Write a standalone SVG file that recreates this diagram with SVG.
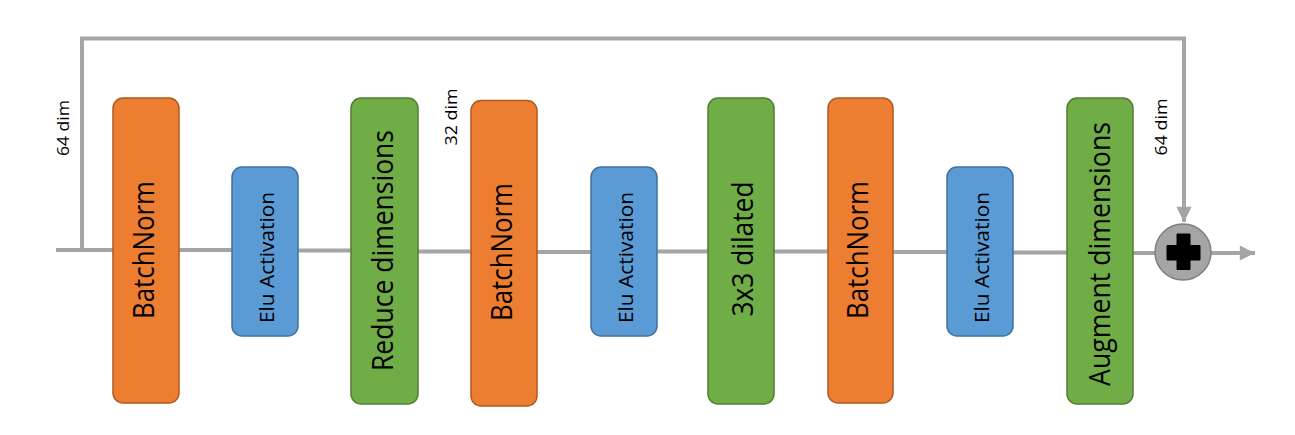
<svg xmlns="http://www.w3.org/2000/svg" width="1295" height="435" viewBox="0 0 1295 435">
<defs>
<style>
.orange{fill:#ed7d31;stroke:#ae5a21;stroke-width:1.5}
.blue{fill:#5b9bd5;stroke:#41719c;stroke-width:1.5}
.green{fill:#70ad47;stroke:#507e32;stroke-width:1.5}
.big{font-family:"Open Sans","Liberation Sans",sans-serif;font-size:28.5px;fill:#000;text-anchor:middle}
.small{font-family:"Open Sans","Liberation Sans",sans-serif;font-size:20px;fill:#000;text-anchor:middle}
.dim{font-family:"Open Sans","Liberation Sans",sans-serif;font-size:17px;fill:#000;text-anchor:middle}
.conn{stroke:#a5a5a5;stroke-width:4;fill:none}
</style>
<marker id="ah" viewBox="0 0 10 10" refX="10" refY="5" markerWidth="4" markerHeight="3.8" markerUnits="strokeWidth" orient="auto">
<path d="M0,0 L10,5 L0,10 Z" fill="#a5a5a5"/>
</marker>
</defs>
<rect width="1295" height="435" fill="#fff"/>
<g id="connectors">
<line class="conn" x1="56" y1="250" x2="114" y2="250"/>
<line class="conn" x1="178" y1="250" x2="233" y2="250"/>
<line class="conn" x1="297" y1="250.5" x2="352" y2="250.5"/>
<line class="conn" x1="417" y1="251.5" x2="472" y2="251.5"/>
<line class="conn" x1="536" y1="252" x2="592" y2="252"/>
<line class="conn" x1="656" y1="251.5" x2="709" y2="251.5"/>
<line class="conn" x1="773" y1="251.5" x2="829" y2="251.5"/>
<line class="conn" x1="892" y1="252" x2="948" y2="252"/>
<line class="conn" x1="1012" y1="252.5" x2="1068" y2="252.5"/>
<line class="conn" x1="1132" y1="253" x2="1156" y2="253"/>
<polyline class="conn" points="82,250 82,38.5 1184,38.5 1184,222" marker-end="url(#ah)"/>
<line class="conn" x1="1211" y1="253" x2="1255" y2="253" marker-end="url(#ah)"/>
</g>
<g id="label-64-left"><text class="dim" transform="translate(69,128) rotate(-90)" textLength="56" lengthAdjust="spacingAndGlyphs">64 dim</text></g>
<g id="label-32"><text class="dim" transform="translate(456.5,117) rotate(-90)" textLength="57" lengthAdjust="spacingAndGlyphs">32 dim</text></g>
<g id="label-64-right"><text class="dim" transform="translate(1167,127) rotate(-90)" textLength="57" lengthAdjust="spacingAndGlyphs">64 dim</text></g>
<g id="batchnorm1">
<rect class="orange" x="113" y="98" width="66" height="305" rx="10"/>
<text class="big" transform="translate(153.5,250) rotate(-90)" textLength="138" lengthAdjust="spacingAndGlyphs">BatchNorm</text>
</g>
<g id="elu1">
<rect class="blue" x="232" y="167" width="66" height="169" rx="10"/>
<text class="small" transform="translate(274,257.5) rotate(-90)" textLength="131" lengthAdjust="spacingAndGlyphs">Elu Activation</text>
</g>
<g id="reduce">
<rect class="green" x="351" y="98" width="67" height="306" rx="10"/>
<text class="big" transform="translate(392.5,250.5) rotate(-90)" textLength="241" lengthAdjust="spacingAndGlyphs">Reduce dimensions</text>
</g>
<g id="batchnorm2">
<rect class="orange" x="471" y="100.5" width="66" height="305.5" rx="10"/>
<text class="big" transform="translate(512,252) rotate(-90)" textLength="138" lengthAdjust="spacingAndGlyphs">BatchNorm</text>
</g>
<g id="elu2">
<rect class="blue" x="591" y="167" width="66" height="169" rx="10"/>
<text class="small" transform="translate(633,257.5) rotate(-90)" textLength="131" lengthAdjust="spacingAndGlyphs">Elu Activation</text>
</g>
<g id="dilated">
<rect class="green" x="708" y="98" width="66" height="306" rx="10"/>
<text class="big" transform="translate(752.5,249) rotate(-90)" textLength="135" lengthAdjust="spacingAndGlyphs">3x3 dilated</text>
</g>
<g id="batchnorm3">
<rect class="orange" x="828" y="98" width="65" height="305" rx="10"/>
<text class="big" transform="translate(868,250) rotate(-90)" textLength="138" lengthAdjust="spacingAndGlyphs">BatchNorm</text>
</g>
<g id="elu3">
<rect class="blue" x="947" y="167" width="66" height="169" rx="10"/>
<text class="small" transform="translate(989,257.5) rotate(-90)" textLength="131" lengthAdjust="spacingAndGlyphs">Elu Activation</text>
</g>
<g id="augment">
<rect class="green" x="1067" y="98" width="66" height="306" rx="10"/>
<text class="big" transform="translate(1110,254) rotate(-90)" textLength="264" lengthAdjust="spacingAndGlyphs">Augment dimensions</text>
</g>
<g id="add">
<circle cx="1183" cy="252" r="28" fill="#a5a5a5" stroke="#7f7f7f" stroke-width="1.5"/>
<path d="M1177,234 H1190 V245.5 H1200 V260 H1190 V269.5 H1177 V260 H1167 V245.5 H1177 Z" fill="#000" stroke="#000" stroke-width="1" stroke-linejoin="round"/>
</g>
</svg>
